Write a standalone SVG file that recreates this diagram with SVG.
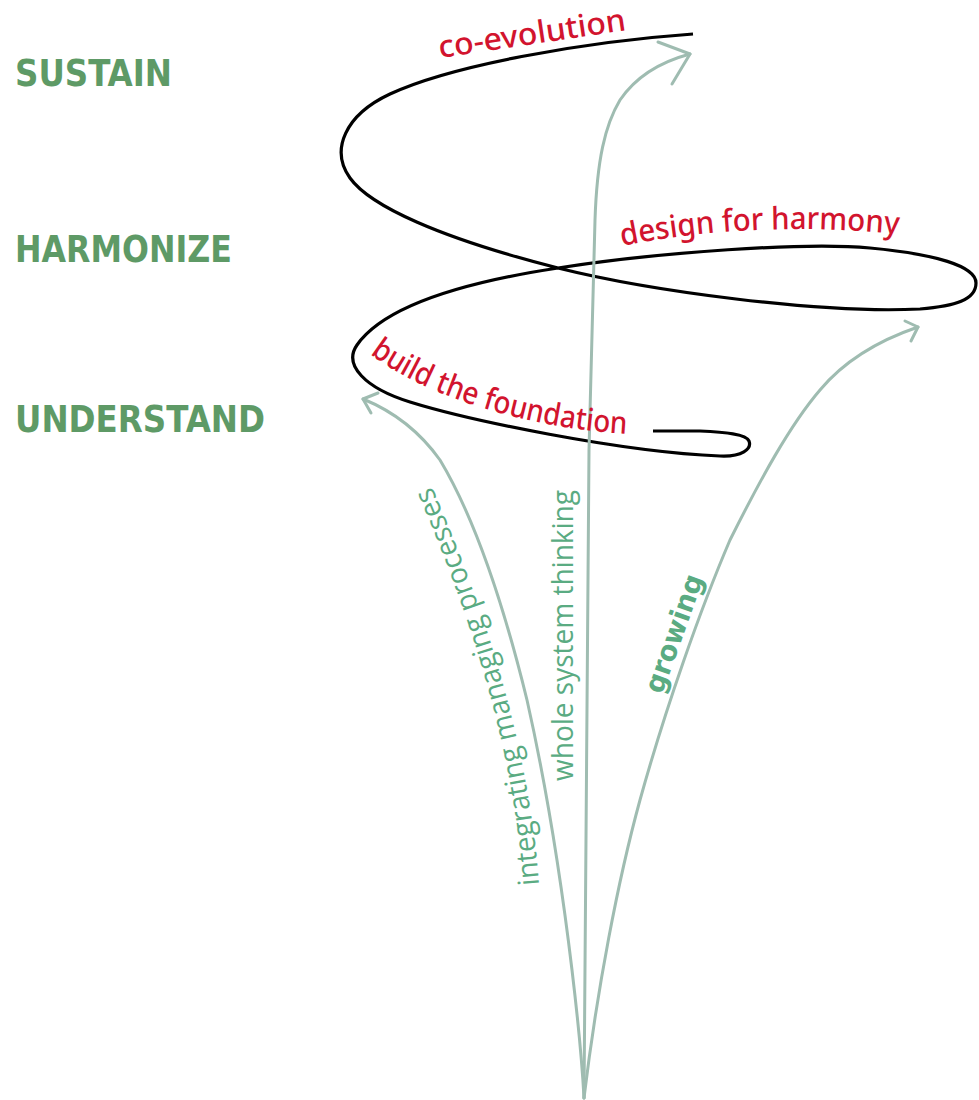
<svg xmlns="http://www.w3.org/2000/svg" width="979" height="1100" viewBox="0 0 979 1100">
<defs>
<style>
.stage{font-family:"DejaVu Sans Condensed","Liberation Sans",sans-serif;font-weight:bold;font-size:37px;fill:#5e9a66}
.red{font-family:"Noto Sans","Open Sans",sans-serif;font-weight:500;font-size:31px;fill:#d2142e}
.teal{font-family:"Open Sans","Noto Sans",sans-serif;font-weight:500;font-size:29px;fill:#5aab82}
.grow{font-family:"DejaVu Sans","Open Sans",sans-serif;font-weight:bold;font-size:28px;fill:#5aab82}
.arrow{fill:none;stroke:#9fbcb1;stroke-width:3;stroke-linejoin:round;stroke-linecap:round}
.spiral{fill:none;stroke:#000;stroke-width:3.2;stroke-linejoin:round;stroke-linecap:butt}
</style>
<path id="pHarm" d="M622,246 Q750,220 898,234"/>
<path id="pBuild" d="M370,354 C430,400 540,430 630,434"/>
<path id="pInteg" d="M539,885 Q526,700 428,478"/>
</defs>
<rect width="979" height="1100" fill="#fff"/>

<g id="stage-sustain"><text class="stage" x="15" y="86" textLength="157" lengthAdjust="spacingAndGlyphs">SUSTAIN</text></g>
<g id="stage-harmonize"><text class="stage" x="15" y="262" textLength="217" lengthAdjust="spacingAndGlyphs">HARMONIZE</text></g>
<g id="stage-understand"><text class="stage" x="15" y="432" textLength="250" lengthAdjust="spacingAndGlyphs">UNDERSTAND</text></g>

<g id="spiral">
<path class="spiral" d="M693,34 C580,42 450,66 390,94 C345,115 330,150 350,178 C370,206 440,238 558,268 C650,291 820,314 920,309 C955,306 976,300 976,283 C976,266 935,254 870,248 C805,242 660,252 558,268 C466,282 385,305 357,345 C343,365 365,388 410,402 C468,420 620,452 720,456 C742,457 752,449 749,441 C746,434 725,432 700,431 L653,431"/>
</g>

<g id="connectors">
<path class="arrow" d="M690,54 C660,62 635,78 620,100 C605,125 597,160 595,220 L589,450 L584,1098"/>
<path class="arrow" d="M658,42 L690,54 L672,84"/>
<path class="arrow" d="M363,399 C395,412 420,432 440,460 C470,510 500,590 527,700 C545,780 560,870 572,970 C578,1020 582,1060 584,1098"/>
<path class="arrow" d="M378,393 L363,399 L371,413"/>
<path class="arrow" d="M918,327 C880,340 845,360 820,390 C790,425 760,480 730,540 C700,610 665,710 640,800 C618,880 597,990 584,1098"/>
<path class="arrow" d="M905,321 L918,327 L911,341"/>
</g>

<g id="label-coevolution"><text class="red" x="440" y="58" transform="rotate(-8.5 440 58)" textLength="189" lengthAdjust="spacingAndGlyphs">co-evolution</text></g>
<g id="label-harmony"><text class="red"><textPath href="#pHarm" textLength="278" lengthAdjust="spacingAndGlyphs">design for harmony</textPath></text></g>
<g id="label-foundation"><text class="red"><textPath href="#pBuild" textLength="272" lengthAdjust="spacingAndGlyphs">build the foundation</textPath></text></g>

<g id="label-integrating"><text class="teal"><textPath href="#pInteg" textLength="415" lengthAdjust="spacingAndGlyphs">integrating managing processes</textPath></text></g>
<g id="label-whole"><text class="teal" x="573" y="781" transform="rotate(-90 573 781)" textLength="291" lengthAdjust="spacingAndGlyphs">whole system thinking</text></g>
<g id="label-growing"><text class="grow" x="662" y="695" transform="rotate(-70.3 662 695)" textLength="124" lengthAdjust="spacingAndGlyphs">growing</text></g>
</svg>
